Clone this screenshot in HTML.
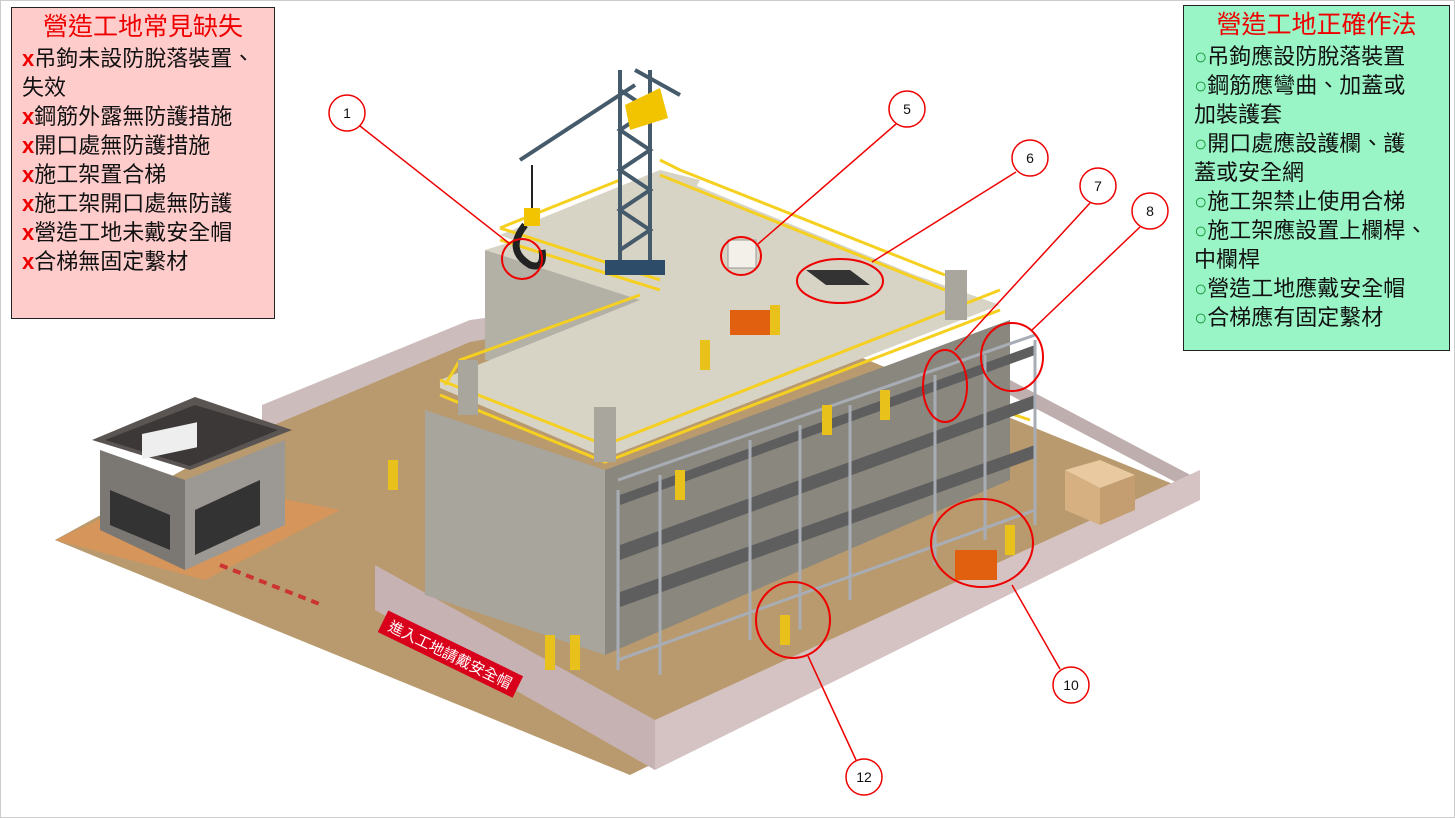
<!DOCTYPE html>
<html><head><meta charset="utf-8"><style>
html,body{margin:0;padding:0;background:#fff;}
body{width:1455px;height:818px;position:relative;overflow:hidden;font-family:"Liberation Sans","Noto Sans CJK TC",sans-serif;}
.box{position:absolute;border:1px solid #222;box-sizing:border-box;font-size:22px;line-height:29px;color:#111;white-space:nowrap;}
.box h1{margin:0;font-size:25px;font-weight:normal;color:#e00;text-align:center;line-height:34px;}
.x{color:#e00;font-weight:bold;}
.o{color:#1a9a3a;font-weight:bold;}
svg{position:absolute;left:0;top:0;}
</style></head><body>
<svg width="1455" height="818" viewBox="0 0 1455 818" font-family="Liberation Sans, Noto Sans CJK TC, sans-serif">
<rect x="0.5" y="0.5" width="1454" height="817" fill="none" stroke="#ccc"/>
<polygon points="55,540 265,425 470,340 720,300 1200,495 630,775" fill="#b99a6e"/>
<polygon points="262,430 470,342 470,320 262,405" fill="#cdbcbc"/>
<polygon points="470,342 620,315 620,300 470,320" fill="#cdbcbc"/>
<polygon points="1010,395 1200,495 1200,480 1010,380" fill="#bfaeae"/>
<polygon points="55,540 185,480 340,510 205,580" fill="#d6955a"/>
<polygon points="100,450 100,530 185,570 185,480" fill="#7b7873"/>
<polygon points="185,480 185,570 285,525 285,440" fill="#9c9893"/>
<polygon points="92,440 190,470 292,430 195,397" fill="#5a5553"/>
<polygon points="105,440 190,466 278,430 195,405" fill="#3c3838"/>
<rect x="142" y="428" width="55" height="25" fill="#eee" transform="skewY(-12)" transform-origin="170 440"/>
<polygon points="195,510 195,555 260,525 260,480" fill="#333"/>
<polygon points="110,490 110,525 170,550 170,515" fill="#333"/>
<line x1="220" y1="565" x2="322" y2="605" stroke="#c33" stroke-width="4" stroke-dasharray="8 6"/>
<polygon points="375,610 655,770 655,720 375,565" fill="#c6b2b2"/>
<polygon points="655,770 1200,500 1200,470 655,720" fill="#d5c3c3"/>
<polygon points="425,410 605,470 605,655 425,595" fill="#a8a59c"/>
<polygon points="605,470 1010,320 1010,480 605,655" fill="#8a877f"/>
<polygon points="485,250 650,300 650,360 485,360" fill="#b3b0a6"/>
<polygon points="440,388 605,458 1000,305 915,275 695,185 660,195 485,250 640,300 440,380" fill="#d7d3c5"/>
<polygon points="500,235 640,290 700,180 660,170" fill="#d7d3c5"/>
<g stroke="#f5d020" stroke-width="3" fill="none">
<polyline points="440,380 605,445 1000,290"/>
<polyline points="440,395 605,462 1000,310"/>
<polyline points="500,240 660,290"/>
<polyline points="500,228 660,280"/>
<polyline points="660,160 680,170 945,275"/>
<polyline points="660,175 945,290"/>
<polyline points="640,295 460,360 445,385"/>
<polyline points="500,228 620,180"/>
<polyline points="1000,410 1030,420"/>
</g>
<rect x="458" y="360" width="20" height="55" fill="#a9a69d"/>
<rect x="594" y="407" width="22" height="55" fill="#a9a69d"/>
<rect x="945" y="270" width="22" height="50" fill="#a9a69d"/>
<g stroke="#455a6a" stroke-width="4" fill="none">
<line x1="620" y1="70" x2="620" y2="265"/><line x1="650" y1="70" x2="650" y2="265"/>
<path d="M620 90 L650 110 L620 130 L650 150 L620 170 L650 190 L620 210 L650 230 L620 250"/>
<line x1="520" y1="160" x2="635" y2="85"/><line x1="635" y1="70" x2="680" y2="95"/>
</g>
<rect x="605" y="260" width="60" height="15" fill="#2d4c6a"/>
<polygon points="625,105 660,88 668,118 630,130" fill="#f2c400"/>
<line x1="532" y1="165" x2="532" y2="225" stroke="#222" stroke-width="2"/>
<path d="M525 225 q-20 25 5 40 q15 5 12 -15" stroke="#222" stroke-width="7" fill="none"/>
<rect x="524" y="208" width="16" height="18" fill="#f2c400"/>
<rect x="728" y="240" width="28" height="28" fill="#f2f0e8" stroke="#999"/>
<polygon points="806,270 850,270 870,285 826,285" fill="#333"/>
<rect x="730" y="310" width="40" height="25" fill="#e06010"/>
<rect x="955" y="550" width="42" height="30" fill="#e06010"/>
<polygon points="1065,470 1100,460 1135,475 1100,488" fill="#e8c9a0"/>
<polygon points="1065,470 1065,510 1100,525 1100,488" fill="#d6b080"/>
<polygon points="1100,488 1100,525 1135,510 1135,475" fill="#c49e70"/>
<g fill="#5e5e5e">
<polygon points="620,495 1035,345 1035,355 620,505" />
<polygon points="620,545 1035,395 1035,408 620,560"/>
<polygon points="620,592 1035,445 1035,458 620,607"/>
</g>
<g stroke="#a8adb5" stroke-width="3">
<line x1="618" y1="490" x2="618" y2="670"/><line x1="660" y1="475" x2="660" y2="675"/>
<line x1="750" y1="440" x2="750" y2="640"/><line x1="800" y1="425" x2="800" y2="630"/>
<line x1="850" y1="405" x2="850" y2="600"/><line x1="935" y1="375" x2="935" y2="565"/>
<line x1="985" y1="355" x2="985" y2="540"/><line x1="1035" y1="340" x2="1035" y2="525"/>
<line x1="618" y1="660" x2="1035" y2="510"/>
<line x1="618" y1="480" x2="1035" y2="335"/>
</g>
<g fill="#e8c21a">
<rect x="388" y="460" width="10" height="30"/><rect x="675" y="470" width="10" height="30"/>
<rect x="700" y="340" width="10" height="30"/><rect x="770" y="305" width="10" height="30"/>
<rect x="822" y="405" width="10" height="30"/><rect x="880" y="390" width="10" height="30"/>
<rect x="545" y="635" width="10" height="35"/><rect x="570" y="635" width="10" height="35"/>
<rect x="780" y="615" width="10" height="30"/><rect x="1005" y="525" width="10" height="30"/>
</g>
<g transform="rotate(26 450 655)"><rect x="375" y="642" width="150" height="24" fill="#d8001a"/><text x="450" y="660" fill="#fff" font-size="15" text-anchor="middle">進入工地請戴安全帽</text></g>
<g stroke="#e00" stroke-width="1.5" fill="none">
<ellipse cx="522" cy="259" rx="20" ry="20" stroke-width="2"/>
<ellipse cx="741" cy="256" rx="20" ry="19" stroke-width="2"/>
<ellipse cx="840" cy="281" rx="43" ry="22" stroke-width="2"/>
<ellipse cx="945" cy="386" rx="22" ry="36" stroke-width="2"/>
<ellipse cx="1012" cy="357" rx="31" ry="34" stroke-width="2"/>
<ellipse cx="982" cy="543" rx="51" ry="44" stroke-width="2"/>
<ellipse cx="793" cy="620" rx="37" ry="38" stroke-width="2"/>
<line x1="360" y1="126" x2="510" y2="244"/>
<line x1="896" y1="124" x2="758" y2="244"/>
<line x1="1016" y1="172" x2="872" y2="262"/>
<line x1="1090" y1="203" x2="955" y2="350"/>
<line x1="1140" y1="227" x2="1032" y2="330"/>
<line x1="1060" y1="669" x2="1012" y2="585"/>
<line x1="856" y1="760" x2="808" y2="656"/>
</g>
<g fill="#fff" stroke="#e00" stroke-width="1.5">
<circle cx="347" cy="113" r="18"/><circle cx="907" cy="109" r="18"/><circle cx="1030" cy="158" r="18"/>
<circle cx="1098" cy="186" r="18"/><circle cx="1150" cy="211" r="18"/><circle cx="1071" cy="685" r="18"/><circle cx="864" cy="777" r="18"/>
</g>
<g font-size="14" text-anchor="middle" fill="#111">
<text x="347" y="118">1</text><text x="907" y="114">5</text><text x="1030" y="163">6</text>
<text x="1098" y="191">7</text><text x="1150" y="216">8</text><text x="1071" y="690">10</text><text x="864" y="782">12</text>
</g>
</svg>
<div class="box" style="left:11px;top:7px;width:264px;height:312px;background:#ffcccc;padding:2px 0 0 10px;">
<h1 style="margin-left:-10px">營造工地常見缺失</h1>
<div><span class="x">x</span>吊鉤未設防脫落裝置、</div><div>失效</div>
<div><span class="x">x</span>鋼筋外露無防護措施</div>
<div><span class="x">x</span>開口處無防護措施</div>
<div><span class="x">x</span>施工架置合梯</div>
<div><span class="x">x</span>施工架開口處無防護</div>
<div><span class="x">x</span>營造工地未戴安全帽</div>
<div><span class="x">x</span>合梯無固定繫材</div>
</div>
<div class="box" style="left:1183px;top:5px;width:267px;height:346px;background:#99f5c6;padding:2px 0 0 10px;">
<h1 style="margin-left:-10px">營造工地正確作法</h1>
<div><span class="o">○</span>吊鉤應設防脫落裝置</div>
<div><span class="o">○</span>鋼筋應彎曲、加蓋或</div><div>加裝護套</div>
<div><span class="o">○</span>開口處應設護欄、護</div><div>蓋或安全網</div>
<div><span class="o">○</span>施工架禁止使用合梯</div>
<div><span class="o">○</span>施工架應設置上欄桿、</div><div>中欄桿</div>
<div><span class="o">○</span>營造工地應戴安全帽</div>
<div><span class="o">○</span>合梯應有固定繫材</div>
</div>
</body></html>
